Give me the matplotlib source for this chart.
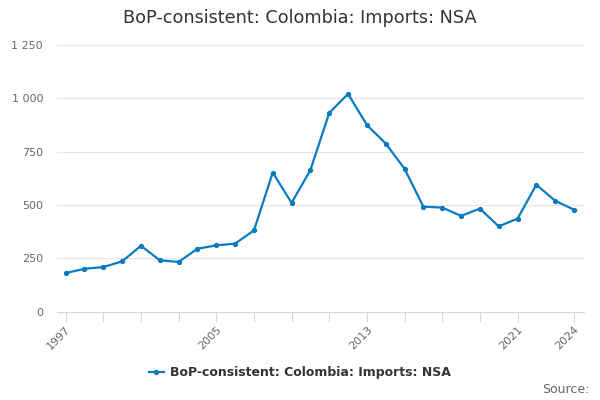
import matplotlib
matplotlib.use("Agg")
import matplotlib.pyplot as plt
from matplotlib.ticker import FuncFormatter

years = list(range(1997, 2025))
imports = [181, 201, 209, 236, 309, 241, 233, 295, 311, 319, 381, 652, 510,
           664, 932, 1021, 875, 788, 670, 492, 488, 449, 483, 400, 436, 595,
           520, 478]
tick_years = [1997, 1999, 2001, 2003, 2005, 2007, 2009, 2011, 2013, 2015,
              2017, 2019, 2021, 2024]
labelled = [1997, 2005, 2013, 2021, 2024]
series_name = "BoP-consistent: Colombia: Imports: NSA"

fig = plt.figure(figsize=(6, 4), dpi=100)
ax = fig.add_axes([0.095, 0.2208, 0.878, 0.6667])

ax.plot(years, imports, color="#0a7bc1", lw=1.6, marker="o", ms=2.8,
        label=series_name)

ax.set_xlim(1997 - 0.46, 2024 + 0.52)
ax.set_ylim(0, 1250)
ax.set_yticks([0, 250, 500, 750, 1000, 1250])
ax.yaxis.set_major_formatter(FuncFormatter(lambda v, p: f"{int(v):,}".replace(",", " ")))
ax.grid(axis="y", color="#e6e6e6", lw=0.8)
ax.set_axisbelow(True)

ax.set_xticks(tick_years)
ax.set_xticklabels([str(y) if y in labelled else "" for y in tick_years],
                   rotation=45, ha="right", rotation_mode="anchor")

for s in ["top", "right", "left"]:
    ax.spines[s].set_visible(False)
ax.spines["bottom"].set_color("#ccd6eb")
ax.tick_params(axis="x", colors="#ccd6eb", length=7, width=0.8,
               labelcolor="#666666", labelsize=8, pad=2)
ax.tick_params(axis="y", length=0, labelcolor="#666666", labelsize=8, pad=10)

fig.text(0.5, 0.955, series_name, ha="center", va="center",
         fontsize=12.7, color="#333333")
leg = fig.legend(loc="center", bbox_to_anchor=(0.5, 0.068), frameon=False,
                 handlelength=1.2, handletextpad=0.5,
                 prop={"size": 9, "weight": "bold"})
for t in leg.get_texts():
    t.set_color("#333333")
fig.text(0.983, 0.027, "Source:", ha="right", va="center",
         fontsize=9, color="#666666")

fig.savefig("out.png", dpi=100)
